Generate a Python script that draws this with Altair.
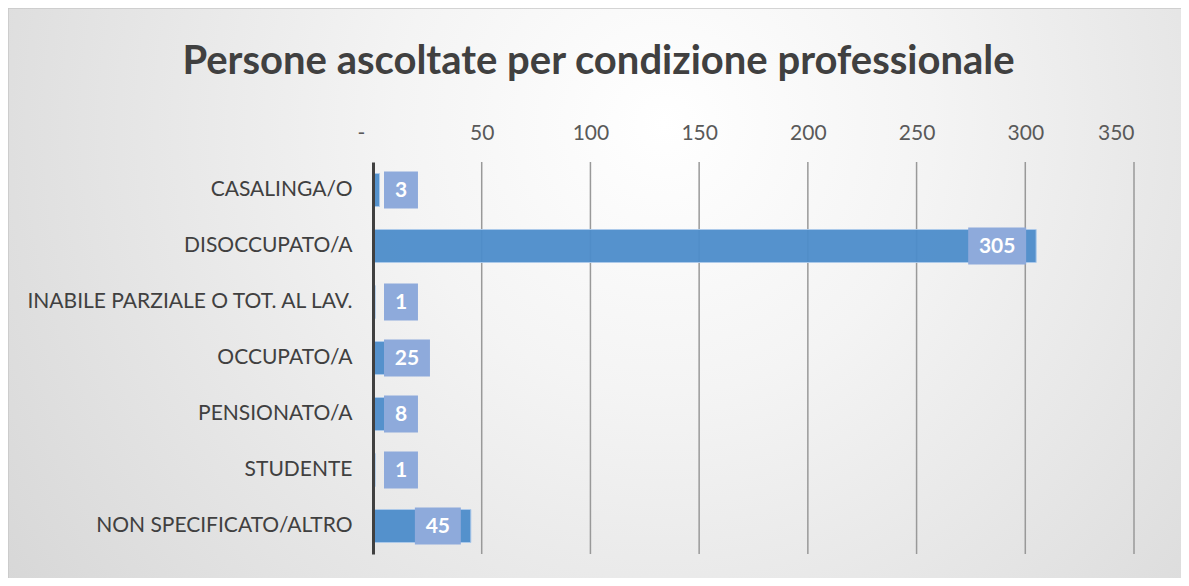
import altair as alt
import pandas as pd

CATEGORIES = [
    "CASALINGA/O",
    "DISOCCUPATO/A",
    "INABILE PARZIALE O TOT. AL LAV.",
    "OCCUPATO/A",
    "PENSIONATO/A",
    "STUDENTE",
    "NON SPECIFICATO/ALTRO",
]
VALUES = [3, 305, 1, 25, 8, 1, 45]
TICKS = [0, 50, 100, 150, 200, 250, 300, 350]
TITLE = "Persone ascoltate per condizione professionale"

df = pd.DataFrame({"cat": CATEGORIES, "v": VALUES})
grid_df = pd.DataFrame({"t": TICKS[1:]})

W, H = 761, 392
PAD_L, PAD_T, PAD_R, PAD_B = 365, 154, 47, 24
FONT = "Lato"

xscale = alt.Scale(domain=[0, 350], nice=False, zero=True)
yscale = alt.Scale(domain=CATEGORIES, paddingInner=0, paddingOuter=0)

bg = alt.Chart(pd.DataFrame({"a": [0]})).mark_rect(
    fill=alt.Gradient(
        gradient="radial",
        x1=0.55, y1=0.35, r1=0.0,
        x2=0.55, y2=0.35, r2=0.75,
        stops=[
            alt.GradientStop(color="#ffffff", offset=0.0),
            alt.GradientStop(color="#f4f4f4", offset=0.3),
            alt.GradientStop(color="#d2d2d2", offset=1.0),
        ],
    ),
    stroke="#c8c8c8",
    strokeWidth=1.5,
).encode(
    x=alt.value(-PAD_L),
    x2=alt.value(W + PAD_R + 20),
    y=alt.value(-PAD_T),
    y2=alt.value(H + PAD_B + 20),
)

grid = alt.Chart(grid_df).mark_rule(color="#999999", strokeWidth=1.5).encode(
    x=alt.X("t:Q", scale=xscale,
            axis=alt.Axis(orient="top", values=TICKS, grid=False, domain=False,
                          ticks=False, labelPadding=19, labelFontSize=21,
                          labelColor="#595959", labelFont=FONT, title=None,
                          zindex=1,
                          labelOffset=alt.condition("datum.value == 0", alt.value(-16), alt.value(0)),
                          labelExpr="datum.value == 0 ? '-' : datum.label")),
)

bars = alt.Chart(df).mark_bar(
    height=33, color="#4d8dcb", stroke="#a9c8ea", strokeWidth=1, opacity=0.95
).encode(
    x=alt.X("v:Q", scale=xscale),
    y=alt.Y("cat:N", scale=yscale, sort=CATEGORIES,
            axis=alt.Axis(title=None, ticks=False, domain=True, domainColor="#404040",
                          domainWidth=3, labelPadding=21, labelFontSize=21,
                          labelColor="#404040", labelFont=FONT, zindex=1,
                          labelLimit=400)),
)

base_lbl = alt.Chart(df).transform_calculate(
    w="10.1 + 5.52 * length(toString(datum.v))"
).transform_calculate(
    r="max(5.06 + datum.w, datum.v - 4.6)"
).transform_calculate(
    l="datum.r - datum.w"
).transform_calculate(
    m="(datum.l + datum.r) / 2"
)

boxes = base_lbl.mark_bar(height=37, color="#8eaadb").encode(
    x=alt.X("l:Q", scale=xscale),
    x2="r:Q",
    y=alt.Y("cat:N", scale=yscale, sort=CATEGORIES),
)

texts = base_lbl.mark_text(
    color="white", fontWeight="bold", fontSize=21, font=FONT, baseline="middle", dy=1
).encode(
    x=alt.X("m:Q", scale=xscale),
    y=alt.Y("cat:N", scale=yscale, sort=CATEGORIES),
    text=alt.Text("v:Q"),
)

chart = alt.layer(bg, grid, bars, boxes, texts).properties(
    width=W,
    height=H,
    padding={"left": PAD_L, "top": PAD_T, "right": PAD_R, "bottom": PAD_B},
    autosize=alt.AutoSizeParams(type="none"),
    title=alt.TitleParams(
        TITLE, anchor="middle", frame="group", dx=-155, offset=0, dy=75,
        fontSize=40, fontWeight="bold", color="#404040", font=FONT,
    ),
).configure_view(stroke=None).configure(background="#e4e4e4")

chart.save("out.html", embed_options={"renderer": "svg", "actions": False})
